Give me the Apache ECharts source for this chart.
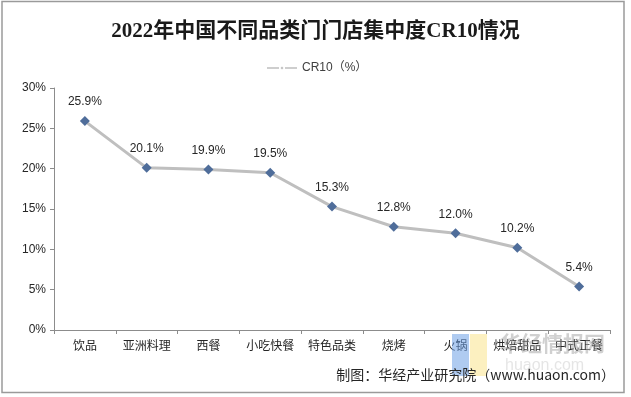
<html>
<head>
    <meta charset="utf-8">
    <title>CR10</title>
    <style>
        * { margin: 0; padding: 0; }
        #chart-container { width: 631px; height: 397px; }
    </style>
</head>
<body>
<div id="chart-container"></div>
<script src="https://cdn.jsdelivr.net/npm/echarts@6/dist/echarts.min.js"></script>
<script>
    // data
    var categories = ['饮品', '亚洲料理', '西餐', '小吃快餐', '特色品类', '烧烤', '火锅', '烘焙甜品', '中式正餐'];
    var cr10 = [25.9, 20.1, 19.9, 19.5, 15.3, 12.8, 12.0, 10.2, 5.4];
    var yTicks = [0, 5, 10, 15, 20, 25, 30];

    var myChart = echarts.init(document.getElementById('chart-container'), null, { renderer: 'canvas' });

    var option = {
        backgroundColor: '#fff',
        animation: false,
        title: {
            text: '2022年中国不同品类门门店集中度CR10情况',
            left: 'center',
            top: 16,
            textStyle: {
                fontFamily: '"Liberation Serif", "Noto Sans CJK SC", serif',
                fontSize: 21,
                fontWeight: 'bold',
                color: '#1a1a1a'
            }
        },
        legend: {
            top: 57,
            left: 262,
            itemWidth: 30,
            itemHeight: 8,
            itemGap: 4,
            data: [{
                name: 'CR10（%）',
                icon: 'path://M0,3.2 L12,3.2 L12,4.8 L0,4.8 Z M13.5,4 L15,2.5 L16.5,4 L15,5.5 Z M18,3.2 L30,3.2 L30,4.8 L18,4.8 Z',
                itemStyle: { color: '#bfbfbf' }
            }],
            textStyle: { fontSize: 12, color: '#404040', fontFamily: 'Arial, "Liberation Sans", "Noto Sans CJK SC"' }
        },
        grid: { left: 54, right: 21, top: 88, bottom: 67 },
        xAxis: {
            type: 'category',
            data: categories,
            axisLine: { lineStyle: { color: '#8c8c8c' } },
            axisTick: { show: true, length: 4, lineStyle: { color: '#8c8c8c' } },
            axisLabel: { color: '#262626', fontSize: 12, margin: 9, interval: 0,
                fontFamily: '"Noto Sans CJK SC", sans-serif' }
        },
        yAxis: {
            type: 'value',
            min: yTicks[0],
            max: yTicks[yTicks.length - 1],
            interval: 5,
            axisLine: { show: true, lineStyle: { color: '#8c8c8c' } },
            axisTick: { show: true, length: 4, lineStyle: { color: '#8c8c8c' } },
            splitLine: { show: false },
            axisLabel: { color: '#262626', fontSize: 12, margin: 8, formatter: '{value}%',
                fontFamily: 'Arial, "Liberation Sans", sans-serif' }
        },
        series: [{
            name: 'CR10（%）',
            type: 'line',
            data: cr10,
            symbol: 'diamond',
            symbolSize: 10,
            itemStyle: { color: '#4f6d9a' },
            lineStyle: { color: '#bfbfbf', width: 3 },
            label: {
                show: true,
                position: 'top',
                distance: 8,
                color: '#262626',
                fontSize: 12,
                fontFamily: 'Arial, "Liberation Sans", sans-serif',
                formatter: function (p) { return p.value.toFixed(1) + '%'; }
            }
        }],
        graphic: [
            // outer frame
            { type: 'rect', shape: { x: 2, y: 1.5, width: 622, height: 391 }, style: { fill: 'none', stroke: '#9a9a9a', lineWidth: 1.5 }, z: 100 },
            // watermark
            { type: 'rect', shape: { x: 452, y: 334, width: 17, height: 42 }, style: { fill: 'rgba(110,160,230,0.55)' }, z: 1 },
            { type: 'rect', shape: { x: 470, y: 334, width: 17, height: 42 }, style: { fill: 'rgba(250,230,150,0.6)' }, z: 1 },
            { type: 'text', left: 500, top: 333, style: { text: '华经情报网', fontSize: 21, fill: 'rgba(150,150,150,0.45)', fontFamily: '"Noto Sans CJK SC"', fontWeight: 'bold' }, z: 1 },
            { type: 'text', left: 505, top: 358, style: { text: 'huaon.com', fontSize: 16, fill: 'rgba(170,170,170,0.3)', fontFamily: 'Arial' }, z: 1 },
            // source
            { type: 'text', right: 16, top: 368, style: { text: '制图：华经产业研究院（www.huaon.com）', fontSize: 14, fill: '#262626', fontFamily: '"Noto Sans CJK SC", Arial' }, z: 10 }
        ]
    };

    myChart.setOption(option);
    window.addEventListener('resize', myChart.resize);
</script>
</body>
</html>
